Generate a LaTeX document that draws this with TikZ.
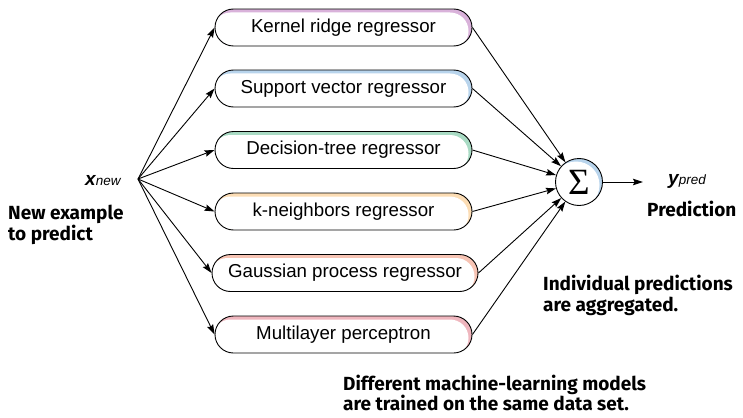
\documentclass[tikz,border=0pt]{standalone}
\usepackage{fontspec}
\setmainfont{Liberation Sans}
\newfontfamily\labelfont{Fira Sans}
\newfontfamily\sigmafont{Liberation Serif}
\usetikzlibrary{shapes.misc,arrows.meta}

\definecolor{bandpurple}{HTML}{D9B2DA}
\definecolor{bandblue}{HTML}{B8D4EC}
\definecolor{bandgreen}{HTML}{A9DBC4}
\definecolor{bandorange}{HTML}{FCDDB5}
\definecolor{bandsalmon}{HTML}{F7C4B4}
\definecolor{bandpink}{HTML}{EFB6BE}

\tikzset{
  pill/.style={draw, rounded rectangle, line width=0.9pt, inner sep=0pt,
    minimum height=37pt, font=\fontsize{18.7}{20}\selectfont},
  arr/.style={line width=0.9pt, -{Stealth[length=10pt,width=6.5pt,inset=1.5pt]}},
  caption/.style={font=\labelfont\bfseries\fontsize{19}{21}\selectfont,
    anchor=base west, inner sep=0pt},
  varlabel/.style={anchor=base west, inner sep=0pt},
}

% a pill-shaped model box with a coloured inner edge along its top and right side
\newcommand\modelbox[6]{%
  \begin{scope}
    \path[clip, rounded corners=18.5pt] (#2-#4,#3-18.5) rectangle (#2+#4,#3+18.5);
    \fill[#5] (#2-#4,#3-18.5) rectangle (#2+#4,#3+18.5);
    \fill[white, rounded corners=18.5pt] (#2-#4-3,#3-18.5+3.5) rectangle (#2+#4-3.5,#3+18.5+3.5);
  \end{scope}
  \node[pill, minimum width=2*#4 pt] (#1) at (#2,#3) {#6};
}
\newcommand\varname[2]{{\fontsize{19}{19}\selectfont\bfseries\itshape #1}%
  {\fontsize{13.5}{13.5}\selectfont\itshape #2}}

\begin{document}
\begin{tikzpicture}[x=1pt,y=-1pt]
  \useasboundingbox (0,0) rectangle (743,417);

  \modelbox{kr}{343.5}{27.5}{128.5}{bandpurple}{Kernel ridge regressor}
  \modelbox{sv}{343.5}{88.5}{128.5}{bandblue}{Support vector regressor}
  \modelbox{dt}{343.5}{150}{128.5}{bandgreen}{Decision-tree regressor}
  \modelbox{kn}{343.5}{211.5}{128.5}{bandorange}{k-neighbors regressor}
  \modelbox{gp}{345}{273}{133}{bandsalmon}{Gaussian process regressor}
  \modelbox{ml}{343.5}{334.5}{128.5}{bandpink}{Multilayer perceptron}

  % summation node
  \begin{scope}
    \clip (579,182) circle (23.5);
    \fill[bandblue] (579,182) circle (23.5);
    \fill[white] (576,185) circle (23.5);
  \end{scope}
  \node[draw, circle, line width=0.9pt, minimum size=47pt, inner sep=0pt,
        font=\sigmafont\fontsize{37}{37}\selectfont] (sum) at (579,182) {Σ};

  % input
  \coordinate (fan) at (138,179);
  \node[varlabel] (xnew) at (85,185) {\varname{x}{new}};
  \node[caption] (newex1) at (8,219) {New example};
  \node[caption] (newex2) at (8,240) {to predict};

  \foreach \m in {kr,sv,dt,kn,gp,ml} {
    \draw[arr] (fan) -- (\m.west);
    \draw[arr] (\m.east) -- (sum);
  }

  % output
  \coordinate (out) at (643,182);
  \draw[arr] (sum.east) -- (out);
  \node[varlabel] (ypred) at (668,184) {\varname{y}{pred}};
  \node[caption] (pred) at (647,216) {Prediction};

  \node[caption] (agg1) at (543,290) {Individual predictions};
  \node[caption] (agg2) at (543,311) {are aggregated.};
  \node[caption] (diff1) at (343,390) {Different machine-learning models};
  \node[caption] (diff2) at (343,410) {are trained on the same data set.};
\end{tikzpicture}
\end{document}
